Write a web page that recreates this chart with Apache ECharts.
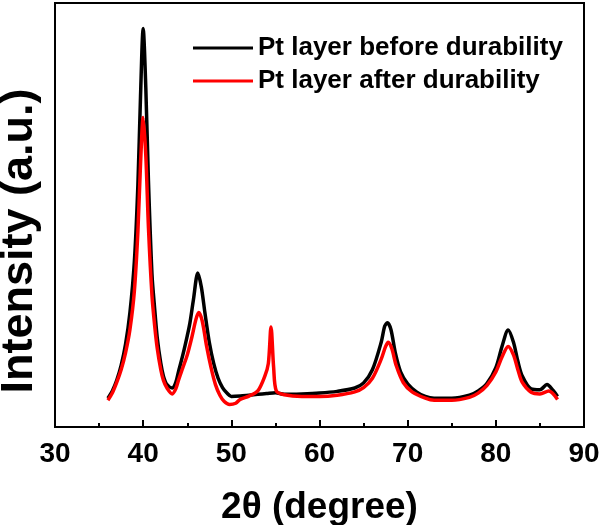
<!DOCTYPE html>
<html>
<head>
<meta charset="utf-8">
<script src="https://cdn.jsdelivr.net/npm/echarts@6/dist/echarts.min.js"></script>
<style>html,body{margin:0;padding:0;background:#fff;}#c{width:600px;height:525px;}</style>
</head>
<body>
<div id="c"></div>
<script>
const xTicks = [30, 40, 50, 60, 70, 80, 90];
const seriesNames = ['Pt layer before durability', 'Pt layer after durability'];
const before = [
  [36,6.8],[36.5,8.5],[37,11],[37.5,14.5],[38,19.5],[38.5,27],[39,39],[39.4,57],[39.7,78],[40,94],
  [40.3,80],[40.6,58],[41,36],[41.3,28],[41.6,21],[42,15],[42.3,12],[42.7,10],[43.3,9.2],
  [43.7,10.5],[44,13],[44.5,17],[45,21.5],[45.3,24.5],[45.7,30],[46.2,36.3],[46.6,33],[47,27],[47.5,20],[48,15],[48.5,11.5],[49,9.3],[49.5,8],
  [50,7.2],[51,7.3],[52,7.5],[53,7.7],[54,7.9],[55,8.1],[56,7.7],[58,7.8],[60,8],[62,8.4],[64,9.2],[65,10.4],[66,13.5],
  [67,20],[67.4,23.8],[67.7,24.6],[68.1,23],[68.6,17.5],[69.2,13],[70,10.2],[71,8.3],[72,7.2],[73,6.8],[75,6.8],[77,7.5],
  [78,8.5],[79,10.3],[80,14],[80.7,19],[81.4,22.9],[82,20],[82.5,15.5],[83,12],[84,9],[85,8.8],[85.8,10],[86.5,8.6],[87,7.2]
];
const after = [
  [36,6.3],[36.5,8],[37,10.5],[37.5,13.5],[38,17.5],[38.5,23],[39,32],[39.4,46],[39.7,62],[40,73],
  [40.3,64],[40.6,47],[41,31],[41.3,24],[41.6,18.5],[42,13.5],[42.3,11],[42.7,9.2],[43.3,7.8],
  [43.7,9],[44,11],[44.5,14],[45,17],[45.5,21],[46,25.5],[46.3,27],[46.7,25],[47.2,19],[47.7,14],[48.2,10],[48.7,7.5],[49.2,6],
  [49.8,5.3],[50.5,5.6],[51,6.5],[52,7.3],[53,8.5],[53.8,12],[54.2,15],[54.5,23.6],[54.8,14],[55.1,8.5],[56,7.6],[58,7.2],
  [60,7.2],[62,7.5],[64,8.3],[65,9.3],[66,11.5],[67,16],[67.5,19],[67.8,20],[68.2,18.5],[68.7,14.5],[69.5,10.5],[70.5,8.3],
  [72,6.8],[73,6.3],[75,6.3],[77,7],[78,8],[79,9.8],[80,13],[80.7,16.5],[81.4,19],[82,17],[82.5,13.5],[83,10.5],[84,8.2],
  [85,7.8],[86,8.5],[87,6.5]
];
const FONT = 'Arial, "Liberation Sans", sans-serif';
const chart = echarts.init(document.getElementById('c'), null, {renderer: 'canvas'});
chart.setOption({
  animation: false,
  backgroundColor: '#fff',
  grid: {left: 55, right: 16, top: 3, bottom: 98, containLabel: false, outerBoundsMode: 'none',
         show: true, borderColor: '#000', borderWidth: 2, backgroundColor: 'transparent'},
  legend: {
    orient: 'vertical', left: 193, top: 35, padding: 0, itemGap: 7, itemWidth: 60, itemHeight: 3,
    icon: 'rect',
    textStyle: {fontFamily: FONT, fontWeight: 'bold', fontSize: 26, color: '#000'},
    data: seriesNames
  },
  xAxis: {
    type: 'value', min: xTicks[0], max: xTicks[xTicks.length - 1], interval: 10,
    axisLine: {lineStyle: {color: '#000', width: 2}},
    axisTick: {inside: true, length: 7, lineStyle: {color: '#000', width: 2}},
    minorTick: {show: true, splitNumber: 2, length: 4, lineStyle: {color: '#000', width: 2}},
    splitLine: {show: false},
    axisLabel: {fontFamily: FONT, fontWeight: 'bold', fontSize: 28, color: '#000', margin: 13},
    name: '2θ (degree)', nameLocation: 'middle', nameGap: 62,
    nameTextStyle: {fontFamily: FONT, fontWeight: 'bold', fontSize: 37, color: '#000'}
  },
  yAxis: {
    type: 'value', min: 0, max: 100,
    axisLine: {show: true, lineStyle: {color: '#000', width: 2}},
    axisTick: {show: false}, axisLabel: {show: false}, splitLine: {show: false}
  },
  graphic: [{
    type: 'text', x: 20, y: 241, rotation: Math.PI / 2,
    style: {text: 'Intensity (a.u.)', fontFamily: FONT, fontWeight: 'bold', fontSize: 45, fill: '#000', align: 'center', verticalAlign: 'middle'}
  }],
  series: [
    {name: seriesNames[0], type: 'line', data: before, showSymbol: false, smooth: 0.3, lineStyle: {color: '#000', width: 3.5}, itemStyle: {color: '#000'}},
    {name: seriesNames[1], type: 'line', data: after, showSymbol: false, smooth: 0.3, lineStyle: {color: '#ff0000', width: 3.5}, itemStyle: {color: '#ff0000'}}
  ]
});
</script>
</body>
</html>
